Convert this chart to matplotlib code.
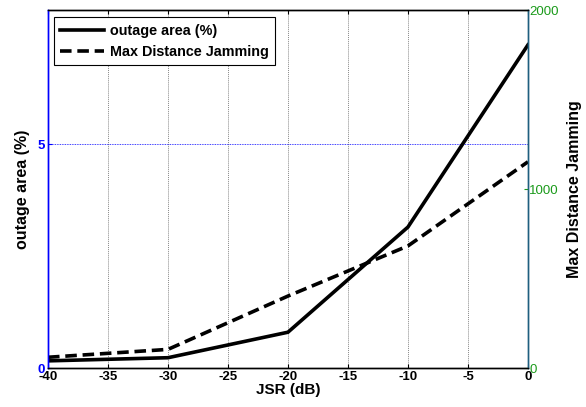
import matplotlib
matplotlib.use("Agg")
import matplotlib.pyplot as plt

jsr = [-40, -30, -20, -10, 0]
outage = [0.16, 0.23, 0.80, 3.15, 7.22]
max_dist = [60, 104, 402, 682, 1152]
x_ticks = [-40, -35, -30, -25, -20, -15, -10, -5, 0]

plt.rcParams['font.family'] = ['Liberation Sans', 'DejaVu Sans']
plt.rcParams['font.weight'] = 'bold'

fig = plt.figure(figsize=(5.86, 4.07), dpi=100)
ax = fig.add_axes([0.0819, 0.0958, 0.819, 0.8796])
ax2 = ax.twinx()

blue = '#0000ff'
green = '#1a9a1a'

l1, = ax.plot(jsr, outage, color='black', lw=2.6, solid_joinstyle='miter')
l2, = ax2.plot(jsr, max_dist, color='black', lw=2.6, linestyle=(0, (3.2, 1.6)))

ax.set_xlim(-40, 0)
ax.set_ylim(0, 8)
ax2.set_ylim(0, 2000)
ax.set_xticks(x_ticks)
ax.set_xticklabels([str(t) for t in x_ticks])
ax.set_yticks([0, 5])
ax2.set_yticks([0, 1000, 2000])

for t in x_ticks:
    ax.axvline(t, color='#888888', lw=0.7, ls=(0, (1, 1)), zorder=0)
ax.axhline(5, color=blue, lw=0.6, ls=(0, (1, 1)), zorder=0)

ax.tick_params(axis='x', direction='in', top=True, length=3, labelsize=9.5, pad=2, colors='black')
ax.tick_params(axis='y', direction='in', length=3, labelsize=9.5, colors=blue, pad=2)
ax2.tick_params(axis='y', direction='in', length=3, labelsize=9.5, colors=green, pad=1)
for lab in ax.get_xticklabels() + ax.get_yticklabels():
    lab.set_fontweight('bold')
for lab in ax2.get_yticklabels():
    lab.set_fontweight('normal')

ax.spines['left'].set_color(blue)
ax2.spines['left'].set_color(blue)
ax2.spines['right'].set_color('#1f5f7f')
ax.spines['right'].set_color('#1f5f7f')
for sp in ax.spines.values():
    sp.set_linewidth(1.0)
for sp in ax2.spines.values():
    sp.set_linewidth(1.0)

ax.set_xlabel('JSR (dB)', fontsize=11, fontweight='bold', labelpad=0)
ax.set_ylabel('outage area (%)', fontsize=11.5, fontweight='bold', labelpad=6)
ax2.set_ylabel('Max Distance Jamming', fontsize=11.5, fontweight='bold', labelpad=6)

leg = ax.legend([l1, l2], ['outage area (%)', 'Max Distance Jamming'], loc='upper left',
                bbox_to_anchor=(0.0125, 0.980), borderaxespad=0, fancybox=False, edgecolor='black',
                prop={'size': 10.4, 'weight': 'bold'}, handlelength=3.0, borderpad=0.45,
                labelspacing=0.5, handletextpad=0.4, framealpha=1)
leg.get_frame().set_linewidth(0.8)

fig.savefig('out.png', dpi=100)
